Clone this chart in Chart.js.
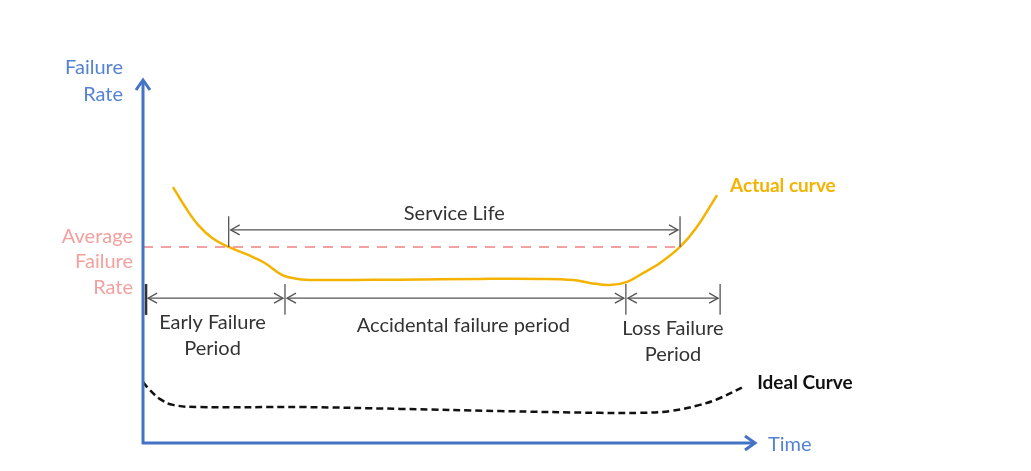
<!DOCTYPE html>
<html>
<head>
<meta charset="utf-8">
<script src="https://cdn.jsdelivr.net/npm/chart.js@4/dist/chart.umd.min.js"></script>
<style>
  html, body { margin: 0; padding: 0; background: #fff; }
  #wrap { width: 1031px; height: 471px; }
</style>
</head>
<body>
<div id="wrap"><canvas id="myChart" width="1031" height="471"></canvas></div>
<script>
// time on x (0-100), failure rate on y (0-100)
const actualX = [4.9, 6.9, 9.0, 11.3, 14.0, 17.2, 19.9, 22.7, 25.3, 28.1, 42.0, 55.1, 64.9, 70.3, 73.0, 76.3, 79.1, 81.7, 84.5, 87.75, 90.5, 93.8];
const actualY = [70.5, 65.0, 60.1, 56.5, 54.0, 51.8, 49.6, 46.3, 45.2, 44.9, 45.0, 45.2, 45.2, 44.9, 44.1, 43.5, 44.4, 46.8, 49.6, 54.0, 59.5, 68.3];

const idealX = [0, 1.1, 2.8, 4.9, 9.3, 25.7, 42.0, 58.3, 74.7, 81.2, 86.1, 91.0, 94.3, 98.4];
const idealY = [16.8, 14.6, 12.1, 10.5, 9.9, 9.9, 9.4, 8.8, 8.3, 8.3, 8.8, 10.5, 12.4, 15.7];

const avgRate = 54.0;
const serviceLife = [14.0, 87.75];
const periodBounds = [0.5, 23.2, 78.9, 94.3];
const periodNames = [['Early Failure', 'Period'], ['Accidental failure period'], ['Loss Failure', 'Period']];

const orange = '#f3b300';
const blue = '#4472c4';
const pink = '#f3a0a0';
const grey = '#555';
const font = 'Lato, "Open Sans", sans-serif';

function pts(xs, ys) {
  return xs.map((x, i) => ({ x: x, y: ys[i] }));
}

function chevron(c, x, y, dir) {
  c.beginPath();
  c.moveTo(x - dir * 9, y - 5);
  c.lineTo(x, y);
  c.lineTo(x - dir * 9, y + 5);
  c.stroke();
}

function dimLine(c, x1, x2, y) {
  c.beginPath();
  c.moveTo(x1, y);
  c.lineTo(x2, y);
  c.stroke();
}

const drawing = {
  id: 'drawing',
  afterDatasetsDraw(chart) {
    const c = chart.ctx;
    const xs = chart.scales.x, ys = chart.scales.y;
    const X = v => xs.getPixelForValue(v);
    const Y = v => ys.getPixelForValue(v);
    c.save();

    // axes with arrows
    c.strokeStyle = blue;
    c.lineWidth = 3;
    c.beginPath();
    c.moveTo(X(0), Y(0) + 1);
    c.lineTo(X(0), Y(100) + 2);
    c.moveTo(X(0) - 1, Y(0));
    c.lineTo(X(100) - 2, Y(0));
    c.stroke();
    c.beginPath();
    c.moveTo(X(0) - 7, Y(100) + 10);
    c.lineTo(X(0), Y(100));
    c.lineTo(X(0) + 7, Y(100) + 10);
    c.moveTo(X(100) - 10, Y(0) - 7);
    c.lineTo(X(100), Y(0));
    c.lineTo(X(100) - 10, Y(0) + 7);
    c.stroke();

    // service life dimension
    c.strokeStyle = grey;
    c.lineWidth = 1.3;
    const sy = Y(avgRate + 4.7);
    c.beginPath();
    serviceLife.forEach(v => { c.moveTo(X(v), Y(avgRate + 8.5)); c.lineTo(X(v), Y(avgRate)); });
    c.stroke();
    dimLine(c, X(serviceLife[0]) + 2, X(serviceLife[1]) - 2, sy);
    chevron(c, X(serviceLife[0]) + 2, sy, -1);
    chevron(c, X(serviceLife[1]) - 2, sy, 1);

    // period dimensions
    const py = Y(39.9);
    c.beginPath();
    periodBounds.forEach(v => { c.moveTo(X(v), Y(43.8)); c.lineTo(X(v), Y(35.3)); });
    c.stroke();
    c.lineWidth = 2.5;
    c.strokeStyle = '#333';
    c.beginPath();
    c.moveTo(X(periodBounds[0]), Y(43.8));
    c.lineTo(X(periodBounds[0]), Y(35.3));
    c.stroke();
    c.lineWidth = 1.3;
    c.strokeStyle = grey;
    for (let i = 0; i < 3; i++) {
      const a = X(periodBounds[i]) + 2, b = X(periodBounds[i + 1]) - 2;
      dimLine(c, a, b, py);
      chevron(c, a, py, -1);
      chevron(c, b, py, 1);
    }

    // texts
    c.textBaseline = 'middle';
    c.font = '20px ' + font;
    c.fillStyle = '#333';
    c.textAlign = 'center';
    c.fillText('Service Life', (X(serviceLife[0]) + X(serviceLife[1])) / 2, sy - 16);
    const offs = [-3, 8, 0];
    for (let i = 0; i < 3; i++) {
      const cx = (X(periodBounds[i]) + X(periodBounds[i + 1])) / 2 + offs[i];
      const base = i === 1 ? py + 27 : (i === 2 ? py + 30 : py + 24);
      periodNames[i].forEach((t, k) => c.fillText(t, cx, base + k * 26));
    }

    c.textAlign = 'right';
    c.fillStyle = '#5582d4';
    c.fillText('Failure', X(0) - 20, Y(100) - 12);
    c.fillText('Rate', X(0) - 20, Y(100) + 15);
    c.fillStyle = pink;
    c.fillText('Average', X(0) - 10, Y(avgRate) - 10);
    c.fillText('Failure', X(0) - 10, Y(avgRate) + 15);
    c.fillText('Rate', X(0) - 10, Y(avgRate) + 41);

    c.textAlign = 'left';
    c.fillStyle = '#5582d4';
    c.fillText('Time', X(100) + 13, Y(0) + 2);
    c.font = 'bold 19px ' + font;
    c.fillStyle = orange;
    c.fillText('Actual curve', X(actualX[actualX.length - 1]) + 13, Y(actualY[actualY.length - 1]) - 9);
    c.fillStyle = '#111';
    c.fillText('Ideal Curve', X(idealX[idealX.length - 1]) + 12, Y(idealY[idealY.length - 1]) - 3);

    c.restore();
  }
};

const ctx = document.getElementById('myChart').getContext('2d');

const myChart = new Chart(ctx, {
  type: 'line',
  data: {
    datasets: [{
      label: 'Average failure rate',
      data: pts([0, serviceLife[1]], [avgRate, avgRate]),
      borderColor: pink,
      borderWidth: 2,
      borderDash: [10, 8],
      pointRadius: 0
    }, {
      label: 'Actual curve',
      data: pts(actualX, actualY),
      borderColor: orange,
      borderWidth: 2.5,
      pointRadius: 0,
      tension: 0.4
    }, {
      label: 'Ideal Curve',
      data: pts(idealX, idealY),
      borderColor: '#111',
      borderWidth: 2.5,
      borderDash: [7, 4],
      pointRadius: 0,
      tension: 0.4
    }]
  },
  options: {
    responsive: false,
    animation: false,
    layout: {
      padding: { left: 143, right: 276, top: 80, bottom: 28 }
    },
    scales: {
      x: { type: 'linear', min: 0, max: 100, display: false },
      y: { type: 'linear', min: 0, max: 100, display: false }
    },
    plugins: {
      legend: { display: false },
      tooltip: { enabled: false }
    }
  },
  plugins: [drawing]
});
</script>
</body>
</html>
